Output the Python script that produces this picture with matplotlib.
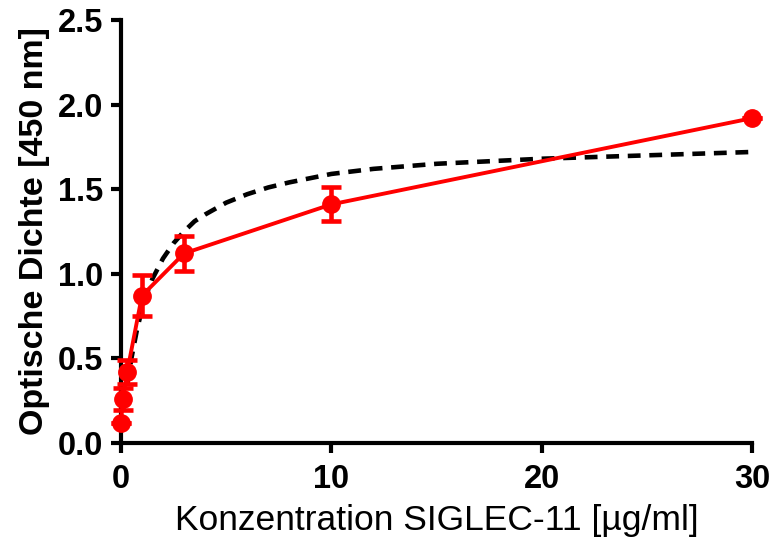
import matplotlib
matplotlib.use("Agg")
import matplotlib.pyplot as plt

# measured points (mean +/- SD)
conc = [0, 0.1, 0.3, 1, 3, 10, 30]
od = [0.12, 0.26, 0.42, 0.87, 1.12, 1.41, 1.92]
od_err = [0.0, 0.065, 0.07, 0.12, 0.105, 0.10, 0.0]

# fitted saturation curve
fit_x = [0.3, 0.5, 0.75, 1, 1.25, 1.5, 2, 2.5, 3, 3.5, 4, 5, 6, 7, 8, 10, 12, 15, 20, 25, 30]
fit_y = [0.34, 0.50, 0.66, 0.79, 0.89, 0.97, 1.09, 1.18, 1.25, 1.31, 1.35, 1.42, 1.47, 1.51, 1.54,
         1.59, 1.62, 1.65, 1.68, 1.70, 1.72]

plt.rcParams["font.family"] = ["Liberation Sans", "DejaVu Sans"]

fig = plt.figure(figsize=(7.7, 5.42), dpi=100)
ax = fig.add_axes([0.157, 0.183, 0.820, 0.780])

ax.plot(fit_x, fit_y, color="black", lw=3.3, ls=(0, (2.8, 1.9)), zorder=2)
ax.errorbar(conc, od, yerr=od_err, color="#ff0000", lw=2.8, marker="o",
            markersize=12.5, elinewidth=3.3, capsize=7, capthick=3.3,
            clip_on=False, zorder=3)

ax.set_xlim(0, 30)
ax.set_ylim(0, 2.5)
ax.set_xticks([0, 10, 20, 30])
ax.set_yticks([0, 0.5, 1.0, 1.5, 2.0, 2.5])
ax.set_yticklabels(["0.0", "0.5", "1.0", "1.5", "2.0", "2.5"])

for s in ["top", "right"]:
    ax.spines[s].set_visible(False)
for s in ["left", "bottom"]:
    ax.spines[s].set_linewidth(3)
ax.tick_params(width=3, length=7.5, labelsize=23.5, pad=5)
ax.tick_params(axis="x", pad=8)
for lab in ax.get_xticklabels() + ax.get_yticklabels():
    lab.set_fontweight("bold")

ax.set_ylabel("Optische Dichte [450 nm]", fontsize=24.5, fontweight="bold", labelpad=6)
ax.set_xlabel("Konzentration SIGLEC-11 [µg/ml]", fontsize=25.5, labelpad=6)

fig.savefig("out.png", dpi=100)
